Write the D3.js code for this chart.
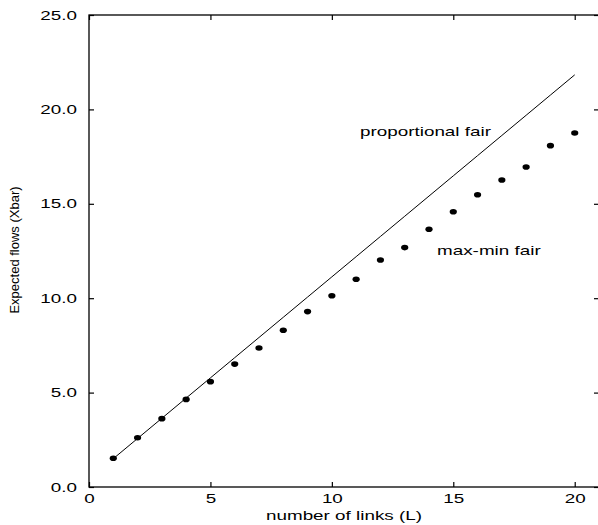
<!DOCTYPE html>
<html>
<head>
<meta charset="utf-8">
<script src="https://cdn.jsdelivr.net/npm/d3@7"></script>
<style>
  body { margin: 0; background: #fff; }
  svg { display: block; font-family: "Liberation Sans", Arial, sans-serif; }
</style>
</head>
<body>
<script>
// data
const links = [1, 2, 3, 4, 5, 6, 7, 8, 9, 10, 11, 12, 13, 14, 15, 16, 17, 18, 19, 20];
const propFair = [1.5, 2.57, 3.64, 4.71, 5.78, 6.85, 7.92, 8.99, 10.06, 11.13,
                  12.2, 13.27, 14.34, 15.41, 16.48, 17.55, 18.62, 19.69, 20.76, 21.83];
const maxMinFair = [1.52, 2.61, 3.62, 4.64, 5.58, 6.51, 7.36, 8.3, 9.29, 10.13,
                    11.0, 12.02, 12.68, 13.65, 14.58, 15.48, 16.26, 16.95, 18.08, 18.75];
const xTicks = [0, 5, 10, 15, 20];
const yTicks = [0, 5, 10, 15, 20, 25];

const width = 598, height = 525;
const margin = { top: 15, left: 89, bottom: 38, right: -1 };
const stretch = 1.45; // the original's text is drawn wide

const svg = d3.select('body').append('svg').attr('width', width).attr('height', height);

const x = d3.scaleLinear().domain([0, 21]).range([margin.left, width - margin.right]);
const y = d3.scaleLinear().domain([0, 25]).range([height - margin.bottom, margin.top]);

// widen a text element around its own x position
const widen = (sel) =>
  sel.each(function () {
    const t = d3.select(this);
    const tx = +t.attr('x') || 0;
    const ty = +t.attr('y') || 0;
    t.attr('x', 0).attr('y', 0)
      .attr('transform', `translate(${tx}, ${ty}) scale(${stretch}, 1)`);
  });

// frame
svg.append('rect')
  .attr('x', x(0)).attr('y', y(25))
  .attr('width', x(21) - x(0)).attr('height', y(0) - y(25))
  .attr('fill', 'none').attr('stroke', '#000').attr('stroke-width', 1.3);

// axes with inward ticks
const axBottom = svg.append('g')
  .attr('transform', `translate(0, ${y(0)})`)
  .call(d3.axisBottom(x).tickValues(xTicks).tickSize(-5).tickPadding(7).tickFormat(d3.format('d')));
const axTop = svg.append('g')
  .attr('transform', `translate(0, ${y(25)})`)
  .call(d3.axisTop(x).tickValues(xTicks).tickSize(-5).tickFormat(''));
const axLeft = svg.append('g')
  .attr('transform', `translate(${x(0)}, 0)`)
  .call(d3.axisLeft(y).tickValues(yTicks).tickSize(-5).tickPadding(12).tickFormat(d3.format('.1f')));
const axRight = svg.append('g')
  .attr('transform', `translate(${x(21)}, 0)`)
  .call(d3.axisRight(y).tickValues(yTicks).tickSize(-5).tickFormat(''));

[axBottom, axTop, axLeft, axRight].forEach((g) => {
  g.select('.domain').remove();
  g.selectAll('line').attr('stroke', '#000').attr('stroke-width', 1.2);
  g.selectAll('text').attr('font-family', '"Liberation Sans", Arial, sans-serif')
    .attr('font-size', '13px').attr('fill', '#000');
});
axBottom.selectAll('text').call(widen);
axLeft.selectAll('text').call(widen);

// axis titles
svg.append('text')
  .text('number of links (L)')
  .attr('x', 344).attr('y', 520)
  .attr('text-anchor', 'middle')
  .attr('font-size', '13px')
  .call(widen);

svg.append('text')
  .text('Expected flows (Xbar)')
  .attr('transform', 'translate(19, 250) rotate(-90)')
  .attr('text-anchor', 'middle')
  .attr('font-size', '13px');

// proportional fair line
const line = d3.line()
  .x((d, i) => x(links[i]))
  .y((d) => y(d));

svg.append('path')
  .datum(propFair)
  .attr('fill', 'none')
  .attr('stroke', '#000')
  .attr('stroke-width', 1)
  .attr('d', line);

// max-min fair points
svg.append('g')
  .selectAll('ellipse')
  .data(maxMinFair)
  .enter()
  .append('ellipse')
  .attr('cx', (d, i) => x(links[i]))
  .attr('cy', (d) => y(d))
  .attr('rx', 3.6)
  .attr('ry', 2.8)
  .attr('fill', '#000');

// labels
svg.append('text')
  .text('proportional fair')
  .attr('x', 360).attr('y', 136)
  .attr('font-size', '13px')
  .call(widen);

svg.append('text')
  .text('max-min fair')
  .attr('x', 437).attr('y', 255)
  .attr('font-size', '13px')
  .call(widen);
</script>
</body>
</html>
